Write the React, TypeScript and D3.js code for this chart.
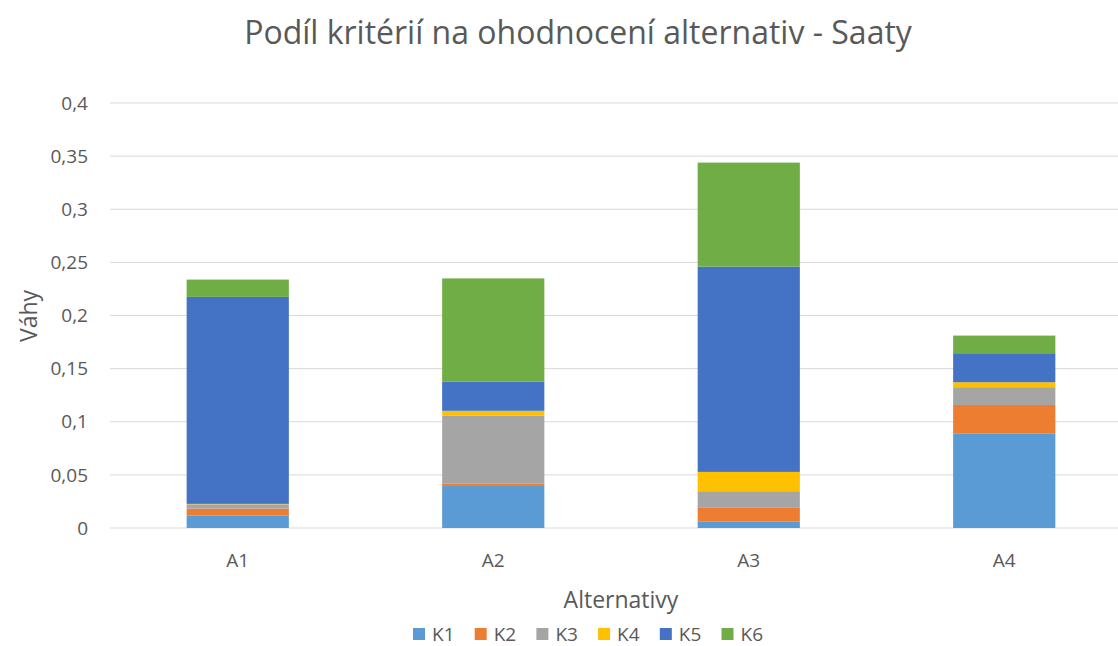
import * as d3 from "d3";

const alternatives = ["A1", "A2", "A3", "A4"];
const criteria = ["K1", "K2", "K3", "K4", "K5", "K6"];

// weights per criterion, one value per alternative (A1..A4)
const k1 = [0.0116, 0.0395, 0.0059, 0.0891];
const k2 = [0.0066, 0.0025, 0.0136, 0.0267];
const k3 = [0.0041, 0.0636, 0.0151, 0.0167];
const k4 = [0.0004, 0.0047, 0.0182, 0.0047];
const k5 = [0.1948, 0.0273, 0.1932, 0.0273];
const k6 = [0.0163, 0.0973, 0.0979, 0.0166];

const yTicks = [0, 0.05, 0.1, 0.15, 0.2, 0.25, 0.3, 0.35, 0.4];

const colors = ["#5B9BD5", "#ED7D31", "#A5A5A5", "#FFC000", "#4472C4", "#70AD47"];

const W = 1118;
const H = 646;
const font = "'Open Sans', 'Noto Sans', sans-serif";
const textColor = "#595959";

export default function App() {
  const series = [k1, k2, k3, k4, k5, k6];
  const rows = alternatives.map((a, i) => {
    const r: any = { alt: a };
    criteria.forEach((k, j) => (r[k] = series[j][i]));
    return r;
  });
  const stacked = d3.stack().keys(criteria)(rows);

  const x = d3.scaleBand().domain(alternatives).range([110, 1132]).paddingInner(0.6).paddingOuter(0.3);
  const y = d3.scaleLinear().domain([0, 0.4]).range([528, 103]);
  const fmt = (v: number) => String(+v.toFixed(2)).replace(".", ",");

  const legendX = 413;
  const legendStep = 61.7;

  return (
    <svg width={W} height={H} style={{ position: "absolute", left: 0, top: 0, background: "#fff" }} fontFamily={font}>
      <text x={578} y={44} textAnchor="middle" fontSize={32} fill={textColor}>
        Podíl kritérií na ohodnocení alternativ - Saaty
      </text>

      {yTicks.map((t) => (
        <g key={t}>
          <line x1={110} x2={W} y1={y(t)} y2={y(t)} stroke="#D9D9D9" strokeWidth={1} />
          <text x={88} y={y(t)} dy="0.35em" textAnchor="end" fontSize={19} fill={textColor}>
            {fmt(t)}
          </text>
        </g>
      ))}

      {stacked.map((s, j) => (
        <g key={s.key} fill={colors[j]}>
          {s.map((d, i) => (
            <rect
              key={i}
              x={x(alternatives[i])}
              width={x.bandwidth()}
              y={y(d[1])}
              height={Math.max(0, y(d[0]) - y(d[1]))}
            />
          ))}
        </g>
      ))}

      {alternatives.map((a) => (
        <text key={a} x={(x(a) as number) + x.bandwidth() / 2} y={560} dy="0.35em" textAnchor="middle" fontSize={19} fill={textColor}>
          {a}
        </text>
      ))}

      <text x={621} y={600} dy="0.35em" textAnchor="middle" fontSize={23} fill={textColor}>
        Alternativy
      </text>
      <text transform={`translate(29,316) rotate(-90)`} dy="0.35em" textAnchor="middle" fontSize={23} fill={textColor}>
        Váhy
      </text>

      {criteria.map((k, j) => (
        <g key={k} transform={`translate(${legendX + j * legendStep},634)`}>
          <rect x={0} y={-6} width={12} height={12} fill={colors[j]} />
          <text x={19} dy="0.35em" fontSize={19} fill={textColor}>
            {k}
          </text>
        </g>
      ))}
    </svg>
  );
}
